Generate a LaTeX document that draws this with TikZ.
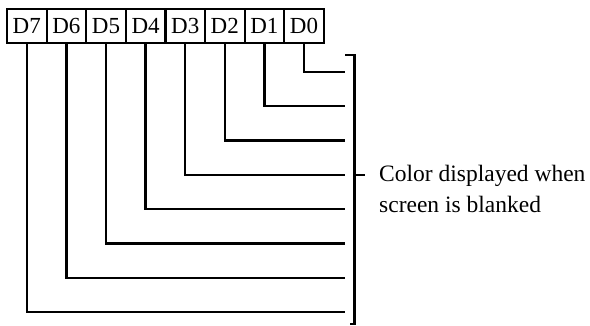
\documentclass[tikz,border=0pt]{standalone}
\usepackage{fontspec}
\setmainfont{Liberation Serif}
\begin{document}
\begin{tikzpicture}[x=1pt,y=-1pt,line width=2.4pt,
  bitbox/.style={draw,line width=2.2pt,minimum width=39.6pt,minimum height=34pt,inner sep=0pt,
    font=\fontsize{23}{23}\selectfont},
  wire/.style={draw,line join=miter}]
\useasboundingbox (0,0) rectangle (590,326);
\foreach \i in {7,...,0}{
  \pgfmathsetmacro{\cx}{26.8+39.6*(7-\i)}
  \node[bitbox] (b\i) at (\cx,26) {D\i};
}
\foreach \i in {0,...,7}{
  \pgfmathsetmacro{\yy}{72+34.3*\i}
  \coordinate (e\i) at (345,\yy);
  \draw[wire] (b\i.south) |- (e\i);
}
\coordinate (bt) at (354.5,55);
\coordinate (btl) at (345,55);
\coordinate (bb) at (354.5,324);
\coordinate (bbl) at (350,324);
\coordinate (bm) at (354.5,175);
\coordinate (bmr) at (365,175);
\draw[wire] (btl) -- (bt) -- (bb) -- (bbl);
\draw (bm) -- (bmr);
\node[anchor=base west,align=left,inner sep=0pt,font=\fontsize{23.5}{31}\selectfont] (lbl) at (378,213) {Color displayed when\\screen is blanked};
\end{tikzpicture}
\end{document}
